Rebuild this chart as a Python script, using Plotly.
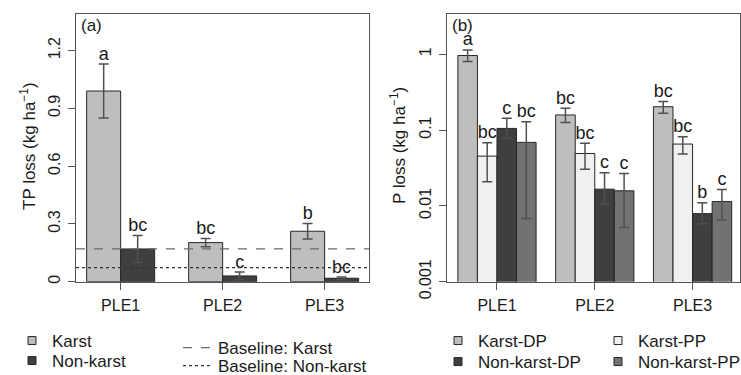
import numpy as np
import plotly.graph_objects as go

# ---------------- data ----------------
categories = ["PLE1", "PLE2", "PLE3"]

# panel (a): TP loss (kg/ha)
tp_karst = [0.99, 0.203, 0.262]
tp_karst_err = [0.14, 0.021, 0.040]
tp_nonkarst = [0.170, 0.030, 0.018]
tp_nonkarst_err = [0.070, 0.020, 0.006]
letters_tp_karst = ["a", "bc", "b"]
letters_tp_nonkarst = ["bc", "c", "bc"]
baseline_karst = 0.170
baseline_nonkarst = 0.073

# panel (b): P loss (kg/ha), log scale, with upper/lower error bounds
karst_dp = [0.96, 0.158, 0.203]
karst_dp_hi = [1.14, 0.193, 0.237]
karst_dp_lo = [0.80, 0.126, 0.166]
karst_pp = [0.0453, 0.049, 0.0653]
karst_pp_hi = [0.068, 0.0667, 0.0816]
karst_pp_lo = [0.0208, 0.0305, 0.0482]
nonkarst_dp = [0.105, 0.0166, 0.0079]
nonkarst_dp_hi = [0.143, 0.0273, 0.011]
nonkarst_dp_lo = [0.078, 0.0105, 0.0058]
nonkarst_pp = [0.0687, 0.0158, 0.0114]
nonkarst_pp_hi = [0.129, 0.0267, 0.0164]
nonkarst_pp_lo = [0.0068, 0.00517, 0.0065]
letters_karst_dp = ["a", "bc", "bc"]
letters_karst_pp = ["bc", "bc", "bc"]
letters_nonkarst_dp = ["c", "c", "b"]
letters_nonkarst_pp = ["bc", "c", "c"]

# ---------------- styles ----------------
FONT = "Liberation Sans, Arial, sans-serif"
TXT = "#1a1a1a"
C_KARST = "#bebebe"
C_NONKARST = "#3f3f3f"
C_KARST_PP = "#f0f0f0"
C_NONKARST_PP = "#727272"
OUTLINE = "#262626"
ERRC = "#505050"

fig = go.Figure()
idx = np.arange(len(categories))


def add_series(vals, err_hi, err_lo, letters, color, name, k, n, gw, xa, ya, legend):
    bw = gw / n
    xs = idx - gw / 2 + bw * (k + 0.5)
    vals = np.array(vals, dtype=float)
    fig.add_trace(go.Bar(
        x=xs, y=vals, width=bw, name=name, showlegend=False,
        marker=dict(color=color, line=dict(color=OUTLINE, width=1)),
        error_y=dict(type="data", array=list(err_hi), arrayminus=list(err_lo),
                     symmetric=False, color=ERRC, thickness=1.5, width=5),
        xaxis=xa, yaxis=ya,
    ))
    fig.add_trace(go.Scatter(
        x=xs, y=vals + np.array(err_hi), mode="text", text=letters,
        textposition="top center", showlegend=False, cliponaxis=False,
        textfont=dict(size=18, color=TXT, family=FONT), hoverinfo="skip",
        xaxis=xa, yaxis=ya,
    ))
    # legend proxy (small square like the original)
    fig.add_trace(go.Scatter(
        x=[None], y=[None], mode="markers", name=name, legend=legend,
        marker=dict(symbol="square", size=8, color=color,
                    line=dict(color=OUTLINE, width=1)),
        xaxis=xa, yaxis=ya,
    ))


# panel (a)
add_series(tp_karst, tp_karst_err, tp_karst_err, letters_tp_karst, C_KARST,
           "Karst", 0, 2, 2 / 3, "x", "y", "legend")
add_series(tp_nonkarst, tp_nonkarst_err, tp_nonkarst_err, letters_tp_nonkarst, C_NONKARST,
           "Non-karst", 1, 2, 2 / 3, "x", "y", "legend2")

# panel (b)
def hl(v, hi, lo):
    v, hi, lo = map(np.array, (v, hi, lo))
    return v, hi - v, v - lo

series_b = [
    (karst_dp, karst_dp_hi, karst_dp_lo, letters_karst_dp, C_KARST, "Karst-DP", "legend5"),
    (karst_pp, karst_pp_hi, karst_pp_lo, letters_karst_pp, C_KARST_PP, "Karst-PP", "legend7"),
    (nonkarst_dp, nonkarst_dp_hi, nonkarst_dp_lo, letters_nonkarst_dp, C_NONKARST, "Non-karst-DP", "legend6"),
    (nonkarst_pp, nonkarst_pp_hi, nonkarst_pp_lo, letters_nonkarst_pp, C_NONKARST_PP, "Non-karst-PP", "legend8"),
]
for k, (v, hi, lo, let, col, nm, lg) in enumerate(series_b):
    vv, eh, el = hl(v, hi, lo)
    add_series(vv, eh, el, let, col, nm, k, 4, 0.8, "x2", "y2", lg)

# baselines in panel (a)
fig.add_shape(type="line", xref="x domain", yref="y", x0=0, x1=1,
              y0=baseline_karst, y1=baseline_karst,
              line=dict(color="#6a6a6a", width=1.3, dash="dash"),
              showlegend=True, name="Baseline: Karst", legend="legend3")
fig.add_shape(type="line", xref="x domain", yref="y", x0=0, x1=1,
              y0=baseline_nonkarst, y1=baseline_nonkarst,
              line=dict(color="#333333", width=1.3, dash="dot"),
              showlegend=True, name="Baseline: Non-karst", legend="legend4")

axis_common = dict(showline=True, linecolor="#555555", linewidth=1, mirror=True,
                   ticks="outside", ticklen=7, tickcolor="#555555", showgrid=False,
                   zeroline=False, tickfont=dict(size=16, color=TXT, family=FONT))


def leg(xpx, ypx):
    return dict(x=xpx / 741, y=1 - ypx / 375, xref="container", yref="container",
                xanchor="left", yanchor="middle",
                font=dict(size=17, color=TXT, family=FONT), tracegroupgap=0,
                bgcolor="rgba(0,0,0,0)")


fig.update_layout(
    width=741, height=375, margin=dict(l=0, r=0, t=0, b=0, autoexpand=False),
    paper_bgcolor="white", plot_bgcolor="white",
    font=dict(family=FONT, size=16, color=TXT),
    xaxis=dict(domain=[76 / 741, 369 / 741], range=[-0.438, 2.435], anchor="y",
               tickvals=list(idx), ticktext=categories, ticklabelstandoff=2, **axis_common),
    yaxis=dict(domain=[1 - 281.7 / 375, 1 - 14 / 375], range=[0, 1.39], anchor="x",
               tickvals=[0, 0.3, 0.6, 0.9, 1.2], ticktext=["0", "0.3", "0.6", "0.9", "1.2"],
               tickangle=-90, ticklabelstandoff=2, **axis_common),
    xaxis2=dict(domain=[447.3 / 741, 740 / 741], range=[-0.508, 2.485], anchor="y2",
                tickvals=list(idx), ticktext=categories, ticklabelstandoff=2, **axis_common),
    yaxis2=dict(domain=[1 - 281.7 / 375, 1 - 14 / 375], type="log", range=[-3, 0.53], anchor="x2",
                tickvals=[0.001, 0.01, 0.1, 1], ticktext=["0.001", "0.01", "0.1", "1"],
                tickangle=-90, ticklabelstandoff=2, **axis_common),
    barmode="overlay",
    legend=leg(12, 341),
    legend2=leg(12, 361),
    legend3=leg(178, 348),
    legend4=leg(178, 366),
    legend5=leg(438, 341),
    legend6=leg(438, 362),
    legend7=leg(598, 341),
    legend8=leg(598, 362),
    annotations=[
        dict(text="(a)", xref="x domain", yref="y domain", x=0.01, y=1.0,
             xanchor="left", yanchor="top", showarrow=False, font=dict(size=17, color=TXT)),
        dict(text="(b)", xref="x2 domain", yref="y2 domain", x=0.01, y=1.0,
             xanchor="left", yanchor="top", showarrow=False, font=dict(size=17, color=TXT)),
        dict(text="TP loss (kg ha<sup>\u22121</sup>)", xref="paper", yref="paper",
             x=28 / 741, y=1 - 146 / 375, textangle=-90, showarrow=False,
             xanchor="center", yanchor="middle", font=dict(size=17, color=TXT)),
        dict(text="P loss (kg ha<sup>\u22121</sup>)", xref="paper", yref="paper",
             x=398 / 741, y=1 - 146 / 375, textangle=-90, showarrow=False,
             xanchor="center", yanchor="middle", font=dict(size=17, color=TXT)),
    ],
)

fig.write_html("out.html")
